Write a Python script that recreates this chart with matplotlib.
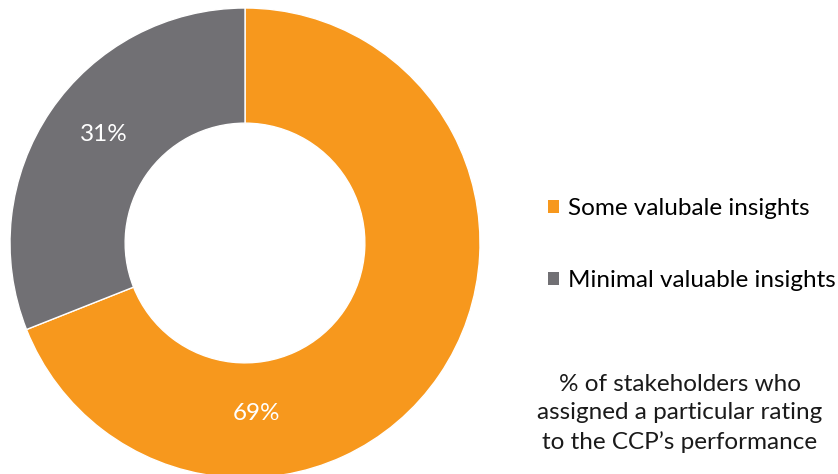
import matplotlib
matplotlib.use("Agg")
import matplotlib.pyplot as plt
from matplotlib.patches import Patch

categories = ["Some valubale insights", "Minimal valuable insights"]
values = [69, 31]
colors = ["#F7981D", "#717074"]
note = "% of stakeholders who\nassigned a particular rating\nto the CCP\u2019s performance"

plt.rcParams['font.family'] = ['Lato', 'DejaVu Sans']

W, H = 838, 474
fig = plt.figure(figsize=(W/100, H/100), dpi=100)
cx, cy, R = 245, 243, 235
ax = fig.add_axes([(cx-R)/W, (H-cy-R)/H, 2*R/W, 2*R/H])
wedges, _ = ax.pie(values, colors=colors, startangle=90, counterclock=False,
                   radius=1.0, wedgeprops=dict(width=0.49, edgecolor='white', linewidth=1))
ax.set_xlim(-1, 1); ax.set_ylim(-1, 1)
ax.set_aspect('equal')
ax.axis('off')

# data labels (positions as in reference)
label_pos = [(0.05, -0.725), (-0.60, 0.46)]
for v, (x, y) in zip(values, label_pos):
    ax.text(x, y, f"{v}%", color='white', fontsize=17.5, ha='center', va='center')

handles = [Patch(facecolor=c, edgecolor='none') for c in colors]
fig.legend(handles, categories, loc='center left', bbox_to_anchor=(548/W, 1-244.5/H),
           frameon=False, fontsize=17.5, handlelength=0.45, handleheight=0.45,
           handletextpad=0.37, labelspacing=2.1, borderaxespad=0, borderpad=0)

fig.text(680/W, 1-413.5/H, note, ha='center', va='center', fontsize=17.5,
         linespacing=1.45, color='#1a1a1a')

fig.savefig("out.png", dpi=100)
